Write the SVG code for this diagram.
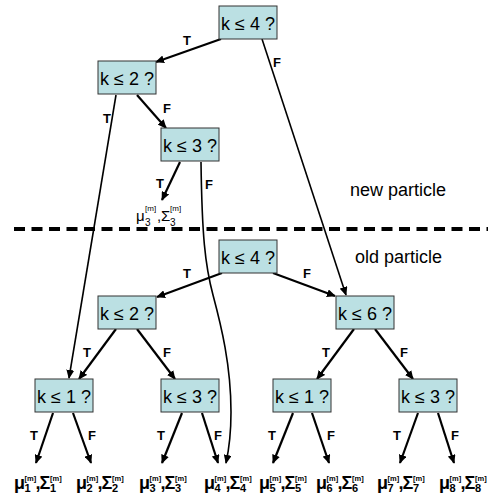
<svg xmlns="http://www.w3.org/2000/svg" width="488" height="500" viewBox="0 0 488 500">
<style>
.box{fill:#BBE0E3;stroke:#333;stroke-width:1}
.bt{font-family:"Liberation Sans",Arial,sans-serif;font-size:18px;text-anchor:middle;fill:#000}
.lb{font-family:"Liberation Sans",Arial,sans-serif;font-size:13px;font-weight:bold;text-anchor:middle;fill:#000}
.e{stroke:#000;stroke-width:2.2;fill:none;marker-end:url(#ah)}
.el{stroke:#000;stroke-width:1.6;fill:none;marker-end:url(#ah)}
.leaf{font-family:"Liberation Sans",Arial,sans-serif;font-weight:bold;fill:#000}
.leaf .m{font-size:18px}
.leaf .s{font-size:11px}
.leaf .p{font-size:7.5px}
.nleaf{font-family:"Liberation Sans",Arial,sans-serif;fill:#000}
.nleaf .m{font-size:15px}
.nleaf .s{font-size:10px}
.nleaf .p{font-size:8px}
.cap{font-family:"Liberation Sans",Arial,sans-serif;font-size:18px;fill:#000}
</style>
<defs>
<marker id="ah" viewBox="0 0 10 10" refX="9" refY="5" markerWidth="9" markerHeight="8" orient="auto" markerUnits="userSpaceOnUse" preserveAspectRatio="none"><path d="M0,0 L10,5 L0,10 z" fill="#000"/></marker>
</defs>

<line x1="14" y1="229" x2="488" y2="229" stroke="#000" stroke-width="4" stroke-dasharray="11 6.5"/>
<text class="cap" x="350" y="196">new particle</text>
<text class="cap" x="355" y="263">old particle</text>

<g id="connectors">
<line class="e" x1="221" y1="39" x2="156" y2="62"/>
<line class="el" x1="262" y1="39" x2="346" y2="295"/>
<line class="el" x1="116" y1="95" x2="69" y2="378"/>
<line class="e" x1="137" y1="95" x2="166" y2="128"/>
<line class="e" x1="180" y1="162" x2="162" y2="200"/>
<path class="el" d="M201,162 C202,235 205,265 213,295 S231,365 231,412 Q231,440 226,463"/>
<line class="e" x1="222" y1="273" x2="157" y2="297"/>
<line class="e" x1="273" y1="273" x2="335" y2="296"/>
<line class="e" x1="116" y1="329" x2="79" y2="379"/>
<line class="e" x1="137" y1="329" x2="175" y2="379"/>
<line class="e" x1="354" y1="329" x2="317" y2="379"/>
<line class="e" x1="375" y1="329" x2="413" y2="379"/>
<line class="e" x1="53" y1="413" x2="36" y2="463"/>
<line class="e" x1="73" y1="413" x2="91" y2="463"/>
<line class="e" x1="182" y1="413" x2="162" y2="463"/>
<line class="e" x1="202" y1="413" x2="218" y2="463"/>
<line class="e" x1="293" y1="413" x2="273" y2="463"/>
<line class="e" x1="312" y1="413" x2="329" y2="463"/>
<line class="e" x1="418" y1="413" x2="400" y2="463"/>
<line class="e" x1="438" y1="413" x2="454" y2="463"/>
<text class="lb" x="187" y="45">T</text>
<text class="lb" x="277" y="67">F</text>
<text class="lb" x="107" y="123">T</text>
<text class="lb" x="167" y="113">F</text>
<text class="lb" x="160" y="188">T</text>
<text class="lb" x="209" y="189">F</text>
<text class="lb" x="187" y="278">T</text>
<text class="lb" x="307" y="278">F</text>
<text class="lb" x="87" y="357">T</text>
<text class="lb" x="167" y="357">F</text>
<text class="lb" x="326" y="357">T</text>
<text class="lb" x="404" y="357">F</text>
<text class="lb" x="34" y="440">T</text>
<text class="lb" x="92" y="440">F</text>
<text class="lb" x="161" y="440">T</text>
<text class="lb" x="218" y="440">F</text>
<text class="lb" x="272" y="440">T</text>
<text class="lb" x="331" y="440">F</text>
<text class="lb" x="397" y="440">T</text>
<text class="lb" x="455" y="440">F</text>
</g>

<g id="n_root_new"><rect class="box" x="219" y="6" width="58" height="33"/><text class="bt" x="248" y="30">k ≤ 4 ?</text></g>
<g id="n_k2_new"><rect class="box" x="98" y="61" width="58" height="33"/><text class="bt" x="127" y="85">k ≤ 2 ?</text></g>
<g id="n_k3_new"><rect class="box" x="161" y="128" width="58" height="33"/><text class="bt" x="190" y="152">k ≤ 3 ?</text></g>
<g id="n_root_old"><rect class="box" x="219" y="240" width="58" height="33"/><text class="bt" x="248" y="264">k ≤ 4 ?</text></g>
<g id="n_k2_old"><rect class="box" x="98" y="296" width="58" height="33"/><text class="bt" x="127" y="320">k ≤ 2 ?</text></g>
<g id="n_k6_old"><rect class="box" x="336" y="296" width="58" height="33"/><text class="bt" x="365" y="320">k ≤ 6 ?</text></g>
<g id="n_k1a"><rect class="box" x="35" y="379" width="58" height="33"/><text class="bt" x="64" y="403">k ≤ 1 ?</text></g>
<g id="n_k3a"><rect class="box" x="161" y="379" width="58" height="33"/><text class="bt" x="190" y="403">k ≤ 3 ?</text></g>
<g id="n_k1b"><rect class="box" x="273" y="379" width="58" height="33"/><text class="bt" x="302" y="403">k ≤ 1 ?</text></g>
<g id="n_k3b"><rect class="box" x="399" y="379" width="58" height="33"/><text class="bt" x="428" y="403">k ≤ 3 ?</text></g>

<g id="leaf_new3"><text class="nleaf"><tspan class="m" x="136" y="221">μ</tspan><tspan class="s" x="145" y="226">3</tspan><tspan class="p" x="145" y="211">[m]</tspan><tspan class="m" x="157" y="221">,</tspan><tspan class="m" x="161" y="221">Σ</tspan><tspan class="s" x="170" y="226">3</tspan><tspan class="p" x="170" y="211">[m]</tspan></text></g>

<g id="leaf1"><text class="leaf"><tspan class="m" x="14" y="489">μ</tspan><tspan class="s" x="24.5" y="492">1</tspan><tspan class="p" x="24.5" y="481">[m]</tspan><tspan class="m" x="35.5" y="489">,</tspan><tspan class="m" x="39.5" y="489">Σ</tspan><tspan class="s" x="50" y="492">1</tspan><tspan class="p" x="50" y="481">[m]</tspan></text></g>
<g id="leaf2"><text class="leaf"><tspan class="m" x="76" y="489">μ</tspan><tspan class="s" x="86.5" y="492">2</tspan><tspan class="p" x="86.5" y="481">[m]</tspan><tspan class="m" x="97.5" y="489">,</tspan><tspan class="m" x="101.5" y="489">Σ</tspan><tspan class="s" x="112" y="492">2</tspan><tspan class="p" x="112" y="481">[m]</tspan></text></g>
<g id="leaf3"><text class="leaf"><tspan class="m" x="139" y="489">μ</tspan><tspan class="s" x="149.5" y="492">3</tspan><tspan class="p" x="149.5" y="481">[m]</tspan><tspan class="m" x="160.5" y="489">,</tspan><tspan class="m" x="164.5" y="489">Σ</tspan><tspan class="s" x="175" y="492">3</tspan><tspan class="p" x="175" y="481">[m]</tspan></text></g>
<g id="leaf4"><text class="leaf"><tspan class="m" x="204" y="489">μ</tspan><tspan class="s" x="214.5" y="492">4</tspan><tspan class="p" x="214.5" y="481">[m]</tspan><tspan class="m" x="225.5" y="489">,</tspan><tspan class="m" x="229.5" y="489">Σ</tspan><tspan class="s" x="240" y="492">4</tspan><tspan class="p" x="240" y="481">[m]</tspan></text></g>
<g id="leaf5"><text class="leaf"><tspan class="m" x="259" y="489">μ</tspan><tspan class="s" x="269.5" y="492">5</tspan><tspan class="p" x="269.5" y="481">[m]</tspan><tspan class="m" x="280.5" y="489">,</tspan><tspan class="m" x="284.5" y="489">Σ</tspan><tspan class="s" x="295" y="492">5</tspan><tspan class="p" x="295" y="481">[m]</tspan></text></g>
<g id="leaf6"><text class="leaf"><tspan class="m" x="316" y="489">μ</tspan><tspan class="s" x="326.5" y="492">6</tspan><tspan class="p" x="326.5" y="481">[m]</tspan><tspan class="m" x="337.5" y="489">,</tspan><tspan class="m" x="341.5" y="489">Σ</tspan><tspan class="s" x="352" y="492">6</tspan><tspan class="p" x="352" y="481">[m]</tspan></text></g>
<g id="leaf7"><text class="leaf"><tspan class="m" x="377" y="489">μ</tspan><tspan class="s" x="387.5" y="492">7</tspan><tspan class="p" x="387.5" y="481">[m]</tspan><tspan class="m" x="398.5" y="489">,</tspan><tspan class="m" x="402.5" y="489">Σ</tspan><tspan class="s" x="413" y="492">7</tspan><tspan class="p" x="413" y="481">[m]</tspan></text></g>
<g id="leaf8"><text class="leaf"><tspan class="m" x="439" y="489">μ</tspan><tspan class="s" x="449.5" y="492">8</tspan><tspan class="p" x="449.5" y="481">[m]</tspan><tspan class="m" x="460.5" y="489">,</tspan><tspan class="m" x="464.5" y="489">Σ</tspan><tspan class="s" x="475" y="492">8</tspan><tspan class="p" x="475" y="481">[m]</tspan></text></g>
</svg>
